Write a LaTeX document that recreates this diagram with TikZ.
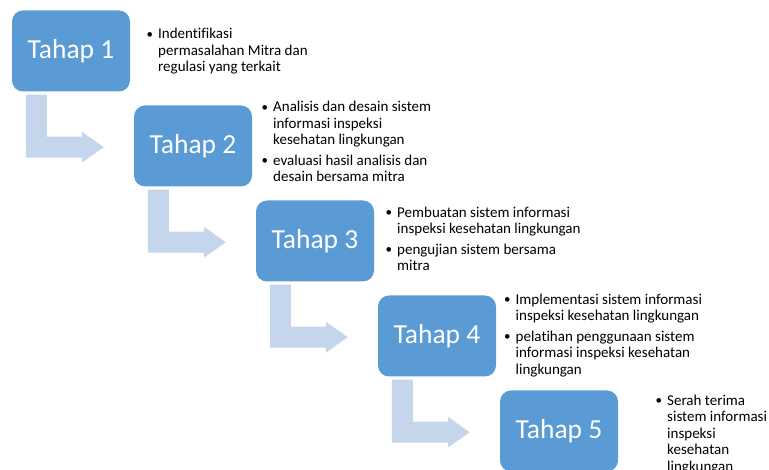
\documentclass[tikz,border=0pt]{standalone}
\usepackage{fontspec}
\setmainfont{Carlito}[Ligatures={CommonOff}]
\usetikzlibrary{calc}
\definecolor{boxblue}{RGB}{91,155,213}
\definecolor{arrowblue}{RGB}{197,214,236}
\newcommand\bitem[1]{\makebox[9pt][l]{\hspace*{-2.5pt}\raisebox{0.6pt}{\fontsize{13}{13}\selectfont\textbullet}}#1}
\newcommand\citem[1]{\hspace*{9pt}#1}
\begin{document}
\begin{tikzpicture}[x=1pt,y=-1pt,
  stagebox/.style={fill=boxblue,rounded corners=11pt,minimum width=118pt,minimum height=81pt,inner sep=0pt,text=white,font={\fontsize{27.5}{32}\selectfont}},
  desc/.style={anchor=north west,inner sep=0pt,align=left,text=black,font={\fontsize{15}{16.5}\selectfont}},
  bentarrow/.style={fill=arrowblue}]
\useasboundingbox (0,0) rectangle (769,470);
\node[stagebox] (b1) at (71,51) {Tahap 1};
\node[stagebox] (b2) at (193,146) {Tahap 2};
\node[stagebox] (b3) at (315,241) {Tahap 3};
\node[stagebox] (b4) at (437,336) {Tahap 4};
\node[stagebox] (b5) at (559,431) {Tahap 5};
\foreach \b in {b1,b2,b3,b4}{
  \fill[bentarrow,shift={(\b.south west)}] (14,3) -- (35,3) -- (35,45) -- (70,45) -- (70,40) -- (92,55.5) -- (70,71) -- (70,66) -- (14,66) -- cycle;
}
\node[desc] (t1) at (149,28) {\bitem{Indentifikasi}\\ \citem{permasalahan Mitra dan}\\ \citem{regulasi yang terkait}};
\node[desc] (t2) at (264,101.3) {\bitem{Analisis dan desain sistem}\\ \citem{informasi inspeksi}\\ \citem{kesehatan lingkungan}\\[4pt] \bitem{evaluasi hasil analisis dan}\\ \citem{desain bersama mitra}};
\node[desc] (t3) at (388,206.6) {\bitem{Pembuatan sistem informasi}\\ \citem{inspeksi kesehatan lingkungan}\\[4pt] \bitem{pengujian sistem bersama}\\ \citem{mitra}};
\node[desc] (t4) at (506.5,293.6) {\bitem{Implementasi sistem informasi}\\ \citem{inspeksi kesehatan lingkungan}\\[4pt] \bitem{pelatihan penggunaan sistem}\\ \citem{informasi inspeksi kesehatan}\\ \citem{lingkungan}};
\node[desc] (t5) at (658,394.6) {\bitem{Serah terima}\\ \citem{sistem informasi}\\ \citem{inspeksi}\\ \citem{kesehatan}\\ \citem{lingkungan}};
\end{tikzpicture}
\end{document}
